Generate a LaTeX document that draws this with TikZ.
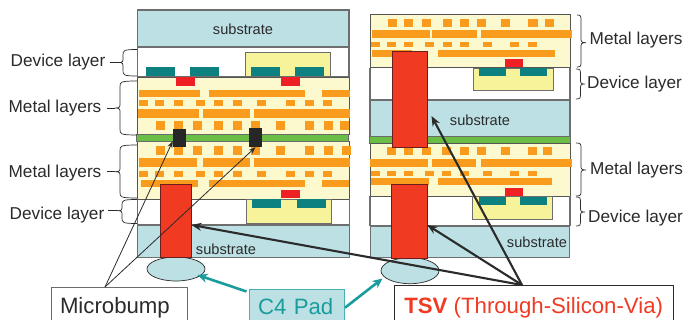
\documentclass[tikz,border=0pt]{standalone}
\usepackage{fontspec}
\setmainfont{Liberation Sans}
\usetikzlibrary{arrows.meta,shapes.geometric}
\definecolor{subc}{HTML}{BCE0E4}
\definecolor{metalc}{HTML}{FCF9CF}
\definecolor{orangec}{HTML}{F99B1C}
\definecolor{tealc}{HTML}{0D8080}
\definecolor{redc}{HTML}{EE2024}
\definecolor{tsvc}{HTML}{F03A22}
\definecolor{greenc}{HTML}{6ABD45}
\definecolor{yellowc}{HTML}{F7F39B}
\definecolor{edgec}{HTML}{6E6E6E}
\definecolor{inkc}{HTML}{2B2B2B}
\definecolor{arrowteal}{HTML}{1A9C9C}
\newcommand{\orow}[3]{\foreach \a/\b in {#3} \fill[orangec] (\a,#1) rectangle (\b,#2);}
\tikzset{
  x=1pt,y=-1pt,
  subst/.style={fill=subc,draw=edgec,line width=1.1pt},
  whitebox/.style={fill=white,draw=edgec,line width=1.1pt},
  metal/.style={fill=metalc,draw=inkc!80,line width=0.9pt},
  yellowbox/.style={fill=yellowc,draw=edgec,line width=0.9pt},
  greenbar/.style={fill=greenc,draw=inkc!70,line width=0.7pt},
  tsvbar/.style={fill=tsvc,draw=inkc!70!red,line width=0.8pt},
  padell/.style={ellipse,fill=subc,draw=inkc,line width=0.7pt},
  lab/.style={text=inkc,font=\fontsize{17.2}{20}\selectfont,inner sep=0pt,yshift=-1.2pt},
  sublab/.style={text=inkc,font=\fontsize{14.6}{17}\selectfont,inner sep=0pt},
  bracepath/.style={draw=inkc,line width=0.7pt},
  thinarrow/.style={draw=inkc,line width=0.8pt,-{Stealth[length=7pt,width=5pt]}},
  thickarrow/.style={draw=inkc,line width=2.1pt,-{Stealth[length=10pt,width=8pt]}},
  tealarrow/.style={draw=arrowteal,line width=2.6pt,-{Stealth[length=10pt,width=9pt]}},
  callout/.style={draw=#1,line width=0.9pt,inner sep=0pt,font=\fontsize{22.2}{26}\selectfont},
}
% end x, vertical x, tip x, y1, y2, tip y
\newcommand{\brc}[6]{%
  \draw[bracepath] (#1,#4) .. controls (#2,#4) and (#2,#4+1) .. (#2,#4+6) -- (#2,#6-5) .. controls (#2,#6-1) and (#2,#6) .. (#3,#6) .. controls (#2,#6) and (#2,#6+1) .. (#2,#6+5) -- (#2,#5-6) .. controls (#2,#5-1) and (#2,#5) .. (#1,#5);}
\begin{document}
\begin{tikzpicture}
\path[use as bounding box] (0,0) rectangle (684,320);
\fill[white] (0,0) rectangle (684,320);
% ===== left stack =====
\draw[subst] (137.5,10) rectangle (349,47);
\node[sublab] (ls1) at (243,29) {substrate};
\draw[whitebox] (137.5,47) rectangle (349,77);
\draw[yellowbox] (245,52) rectangle (330,76);
\foreach \a/\b in {146/175,190/219,251/280,295/324} \fill[tealc] (\a,67) rectangle (\b,76);
\draw[metal] (137.5,77) rectangle (349.5,134.5);
\foreach \a/\b in {176/195,281/300} \fill[redc] (\a,77.5) rectangle (\b,86);
\orow{90}{97}{139/200,209/305,322/350}
\orow{100}{106}{139/148,155/164,174/183,196/205,214/223,233/242,257/266,286/295,305/314,323/332}
\orow{109}{118}{138/199,203/250,254/350}
\orow{121}{130}{156/165,174/183,193/202,214/223,233/242,251/260,276/285,305/314,324/333,340/349}
\draw[metal] (137.5,141.5) rectangle (349.5,199);
\orow{146}{155}{156/165,174/183,193/202,214/223,233/242,251/260,276/285,305/314,324/333,342/351}
\orow{158}{167}{139/197,203/250,254/350}
\orow{171}{177}{139/148,155/164,174/183,196/205,214/223,233/242,257/266,286/295,305/314,323/332}
\orow{180}{187}{141/198,209/305,322/349}
\fill[redc] (281,190) rectangle (300,198.5);
\draw[greenbar] (136.5,134.5) rectangle (348.5,141.5);
\node[fill=inkc!90!black,minimum width=13pt,minimum height=18pt,inner sep=0pt] (mb1) at (179.5,138) {};
\node[fill=inkc!90!black,minimum width=13pt,minimum height=19pt,inner sep=0pt] (mb2) at (255.5,137.5) {};
\draw[whitebox] (137.5,199) -- (137.5,225) (349.5,199) -- (349.5,225);
\draw[yellowbox] (246.5,199) rectangle (331,223);
\foreach \a/\b in {252/281,297/326} \fill[tealc] (\a,199.5) rectangle (\b,208);
\draw[subst] (137.5,225) rectangle (349.5,257.5);
\node[sublab] (ls2) at (226,249) {substrate};
\node[padell,minimum width=58pt,minimum height=24pt,inner sep=0pt] (padL) at (176,269) {};
\draw[tsvbar] (160,184) rectangle (191,257.5);
\coordinate (tsvL) at (191.5,225);
% ===== right stack =====
\draw[metal] (370,14) rectangle (570,67.7);
\orow{19}{27}{388/397,404/413,422/431,443/452,460/469,477/486,501/510,528/538,545/554}
\orow{30}{38}{372/430,432/477,481/572}
\orow{42}{47}{371/380,387/396,404/413,425/434,443/452,460/469,483/492,510/519,528/537}
\orow{50}{57}{372/412,438/555}
\fill[redc] (505,59) rectangle (523,67.5);
\draw[whitebox] (370,67.7) -- (370,100) (570,67.7) -- (570,100);
\draw[yellowbox] (473,68) rectangle (553,90);
\foreach \a/\b in {479/506,520/547} \fill[tealc] (\a,68.3) rectangle (\b,76);
\draw[subst,line width=1.3pt] (370,100) rectangle (570,136.5);
\node[sublab] (rs1) at (480,120) {substrate};
\draw[greenbar] (369,136.5) rectangle (570,143);
\draw[metal] (370,143) rectangle (570,196.3);
\orow{147}{155}{387/396,404/413,422/431,442/451,460/469,477/486,501/510,528/537,543/552}
\orow{159}{167}{370/428,432/476,481/572}
\orow{171}{176}{371/380,387/396,404/413,425/434,442/451,460/469,483/492,510/519,528/537}
\orow{178}{185}{371/429,438/552}
\fill[redc] (505,188) rectangle (523,196);
\draw[tsvbar] (392.7,51) rectangle (427.7,147);
\draw[whitebox] (370,196.3) -- (370,226) (570,196.3) -- (570,226);
\draw[yellowbox] (472.7,196.5) rectangle (552.7,219);
\foreach \a/\b in {479/506,520/547} \fill[tealc] (\a,196.7) rectangle (\b,204.5);
\draw[subst] (370.5,226) rectangle (569.5,257.5);
\node[sublab] (rs2) at (537,242) {substrate};
\node[padell,minimum width=58pt,minimum height=26pt,inner sep=0pt] (padR) at (410,270.7) {};
\draw[tsvbar] (391.3,184) rectangle (427.3,258);
\coordinate (tsvR) at (427.3,225);
\coordinate (tsvU) at (431.5,116);
% ===== braces and labels =====
\brc{137}{123}{119}{49.5}{76}{62.5}
\draw[bracepath,line width=0.9pt] (110,62.5) -- (119,62.5);
\node[lab] (dl1) at (58,61) {Device layer};
\brc{137}{120}{115}{81}{135}{108}
\draw[bracepath,line width=0.9pt] (107,108) -- (115,108);
\node[lab] (ml1) at (55,107) {Metal layers};
\brc{137}{120}{115}{145}{198}{171.7}
\draw[bracepath,line width=0.9pt] (107,171.7) -- (115,171.7);
\node[lab] (ml2) at (55,172) {Metal layers};
\brc{137}{122}{118}{199.5}{223.5}{210.7}
\draw[bracepath,line width=0.9pt] (108,210.7) -- (118,210.7);
\node[lab] (dl2) at (57,214) {Device layer};
\brc{577}{581}{586}{15}{67}{42.7}
\node[lab,anchor=west] (ml3) at (589.5,39) {Metal layers};
\brc{576}{580.5}{585}{69}{99}{84}
\node[lab,anchor=west] (dl3) at (587,83) {Device layer};
\brc{576}{581}{586}{143}{196}{170}
\node[lab,anchor=west] (ml4) at (590,169) {Metal layers};
\brc{576}{580.5}{585}{197}{226}{212}
\node[lab,anchor=west] (dl4) at (588,217) {Device layer};
% ===== callout boxes =====
\node[callout=inkc!70,fill=white,text=inkc,text width=136pt,align=left,minimum height=42pt] (micro) at (119,308) {\hspace*{9pt}Microbump};
\node[callout=arrowteal!80,fill=subc,text=arrowteal,text width=95pt,align=left,minimum height=36pt] (c4) at (297,307) {\hspace*{8.5pt}C4 Pad};
\node[callout=inkc,fill=white,text=tsvc,minimum width=278.5pt,minimum height=46pt] (tsv) at (533.7,308) {\textbf{TSV} (Through-Silicon-Via)};
% ===== connectors =====
\coordinate (mfoot) at (105,287);
\draw[thinarrow] (mfoot) -- (mb1.west |- 0,141);
\draw[thinarrow] (mfoot) -- (mb2.south);
\coordinate (tfoot) at (522,285);
\draw[thickarrow] (tfoot) -- (tsvL);
\draw[thickarrow] (tfoot) -- (tsvR);
\draw[thickarrow] (tfoot) -- (tsvU);
\coordinate (c4a) at (246.5,291.5);
\coordinate (c4b) at (345,307.7);
\draw[tealarrow] (c4a) -- (197.5,275);
\draw[tealarrow] (c4b) -- (382.5,278.5);
\end{tikzpicture}
\end{document}
